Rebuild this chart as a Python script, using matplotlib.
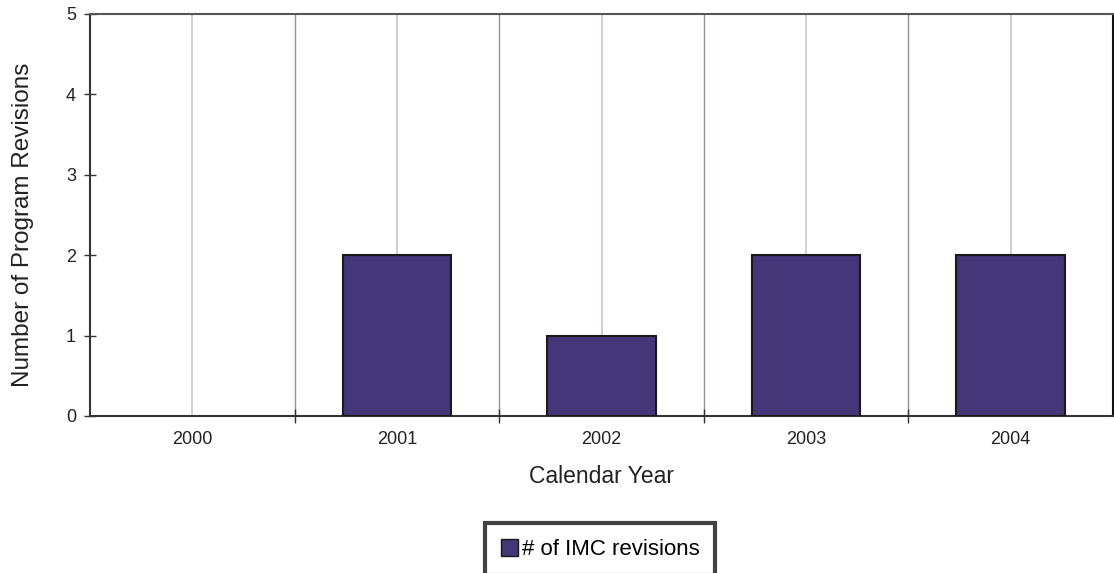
import matplotlib
matplotlib.use("Agg")
import matplotlib.pyplot as plt
from matplotlib.patches import Patch

years = ["2000", "2001", "2002", "2003", "2004"]
revisions = [0, 2, 1, 2, 2]
series_name = "# of IMC revisions"

plt.rcParams['font.family'] = ['Liberation Sans', 'DejaVu Sans']

fig = plt.figure(figsize=(11.14, 5.73), dpi=100)
ax = fig.add_axes([90/1114, 157/573, 1023/1114, 402/573])

x = list(range(len(years)))
bars = ax.bar(x, revisions, width=0.53, color="#433679", edgecolor="#1a1a1a", linewidth=1.5, zorder=3)
for b, v in zip(bars, revisions):
    if v == 0:
        b.set_linewidth(0)

ax.set_xlim(-0.5, len(years) - 0.5)
ax.set_ylim(0, 5)
ax.set_yticks(range(6))
ax.tick_params(axis='y', direction='inout', length=8, width=1, colors="#333333", labelsize=13, pad=6)
for t in ax.get_yticklabels():
    t.set_color("#222222")

# major ticks at boundaries (tick marks), labels at centers
ax.set_xticks([i + 0.5 for i in x[:-1]])
ax.set_xticklabels([])
ax.set_xticks(x, minor=True)
ax.set_xticklabels(years, minor=True)
ax.tick_params(axis='x', which='major', direction='inout', length=10, width=1, color="#333333")
ax.tick_params(axis='x', which='minor', length=0, labelsize=13, pad=11, labelcolor="#222222")

for xi in x:
    ax.axvline(xi, color="#cdc5c5", linewidth=1.2, zorder=1)
for xi in x[:-1]:
    ax.axvline(xi + 0.5, color="#9a9090", linewidth=1.0, zorder=1)

for s in ['left', 'bottom']:
    ax.spines[s].set_color("#333333")
    ax.spines[s].set_linewidth(1.5)
ax.spines['top'].set_color("#555555")
ax.spines['top'].set_linewidth(1.5)
ax.spines['right'].set_color("#111111")
ax.spines['right'].set_linewidth(1.5)

ax.set_xlabel("Calendar Year", fontsize=16.5, color="#222222", labelpad=12)
ax.set_ylabel("Number of Program Revisions", fontsize=17.5, color="#222222")
ax.yaxis.set_label_coords(-0.055, 0.475)

handle = Patch(facecolor="#433679", edgecolor="#1a1a1a", linewidth=1)
leg = fig.legend([handle], [series_name], loc='upper center', bbox_to_anchor=(600/1114, 1 - 523/573),
                 fontsize=16, frameon=True, fancybox=False, handlelength=0.8, handleheight=0.8,
                 handletextpad=0.15, borderpad=0.7, borderaxespad=0)
leg.get_frame().set_edgecolor("#111111")
leg.get_frame().set_linewidth(3)

fig.savefig("out.png", dpi=100)
